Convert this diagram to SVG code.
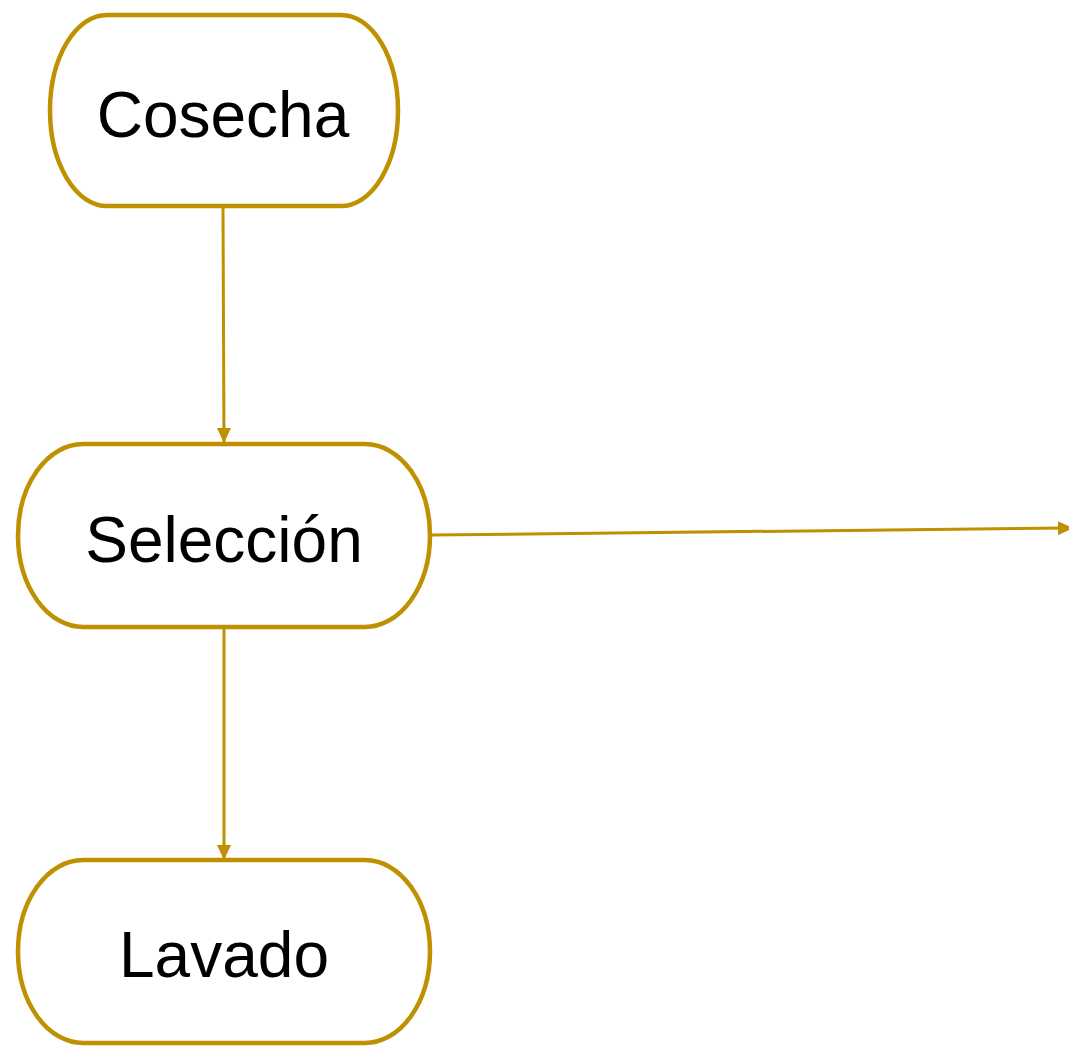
<svg xmlns="http://www.w3.org/2000/svg" width="1069" height="1046" viewBox="0 0 1069 1046">
<defs>
<style>
.node{fill:#ffffff;stroke:#BF9000;stroke-width:4.5}
.lbl{font-family:"Liberation Sans",Arial,sans-serif;font-size:64px;fill:#000000;text-anchor:middle}
.conn{fill:none;stroke:#BF9000;stroke-width:3}
</style>
<marker id="ah" markerUnits="userSpaceOnUse" markerWidth="16" markerHeight="16" viewBox="0 0 16 16" refX="15" refY="8" orient="auto">
<path d="M0,1 L15,8 L0,15 Z" fill="#BF9000"/>
</marker>
</defs>
<g id="connectors">
<line class="conn" x1="223" y1="207" x2="224" y2="443" marker-end="url(#ah)"/>
<line class="conn" x1="224" y1="628" x2="224" y2="860" marker-end="url(#ah)"/>
<line class="conn" x1="432" y1="535" x2="1073" y2="528" marker-end="url(#ah)"/>
</g>
<g id="cosecha">
<path class="node" d="M107,15 H341 A57,95.5 0 0 1 341,206 H107 A57,95.5 0 0 1 107,15 Z"/>
<text class="lbl" x="223" y="137">Cosecha</text>
</g>
<g id="seleccion">
<path class="node" d="M83,444 H365 A65,91.5 0 0 1 365,627 H83 A65,91.5 0 0 1 83,444 Z"/>
<text class="lbl" x="224" y="562">Selección</text>
</g>
<g id="lavado">
<path class="node" d="M83,860 H365 A65,91.5 0 0 1 365,1043 H83 A65,91.5 0 0 1 83,860 Z"/>
<text class="lbl" x="224" y="977">Lavado</text>
</g>
</svg>
